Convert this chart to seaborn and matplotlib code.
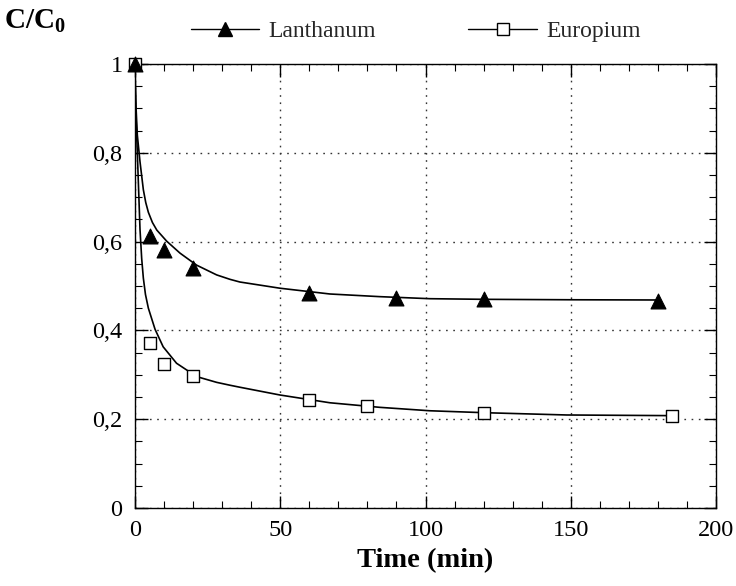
import matplotlib
matplotlib.use("Agg")
import matplotlib.pyplot as plt
import seaborn as sns
import pandas as pd
from matplotlib.lines import Line2D
from matplotlib.ticker import MultipleLocator

# ---- data ----
la_time = [0, 5, 10, 20, 60, 90, 120, 180]
la_ratio = [1.0, 0.613, 0.580, 0.540, 0.485, 0.472, 0.470, 0.467]

eu_time = [0, 5, 10, 20, 60, 80, 120, 185]
eu_ratio = [1.0, 0.371, 0.324, 0.298, 0.243, 0.230, 0.213, 0.208]

# fitted curves
la_fit_time = [0, 0.1, 0.3, 0.8, 1.72, 2.87, 3.7, 4.6, 6.0, 7.5, 10.9, 15.5, 21.2,
               28.1, 32.7, 36.1, 49.9, 67.1, 84.3, 101.5, 120.0, 150.0, 180.0]
la_fit_ratio = [1.0, 0.96, 0.91, 0.84, 0.78, 0.717, 0.688, 0.666, 0.643, 0.626,
                0.601, 0.574, 0.547, 0.525, 0.515, 0.509, 0.495, 0.482, 0.476,
                0.4714, 0.470, 0.469, 0.4685]

eu_fit_time = [0, 0.1, 0.35, 0.8, 1.72, 2.3, 2.87, 3.6, 4.6, 6.9, 9.7, 14.3, 21.2,
               28.1, 32.7, 36.1, 49.9, 67.1, 84.3, 101.5, 120.0, 148.6, 185.0]
eu_fit_ratio = [1.0, 0.95, 0.88, 0.80, 0.628, 0.562, 0.518, 0.481, 0.450, 0.4025,
                0.363, 0.326, 0.296, 0.283, 0.2765, 0.272, 0.2545, 0.237, 0.2267,
                0.219, 0.2147, 0.2095, 0.208]

x_ticks = [0, 50, 100, 150, 200]
x_tick_labels = ["0", "50", "100", "150", "200"]
y_ticks = [0, 0.2, 0.4, 0.6, 0.8, 1.0]
y_tick_labels = ["0", "0,2", "0,4", "0,6", "0,8", "1"]
series_names = ["Lanthanum", "Europium"]

# ---- style ----
sns.set_theme(style="white")
plt.rcParams["font.family"] = ["Liberation Serif", "DejaVu Serif"]
plt.rcParams["mathtext.fontset"] = "custom"
plt.rcParams["mathtext.rm"] = "Liberation Serif"
plt.rcParams["mathtext.bf"] = "Liberation Serif:bold"

fig = plt.figure(figsize=(7.36, 5.86), dpi=100)
ax = fig.add_axes([135 / 736, 1 - 508 / 586, (716 - 135) / 736, (508 - 64) / 586])

fit_la = pd.DataFrame({"t": la_fit_time, "r": la_fit_ratio})
fit_eu = pd.DataFrame({"t": eu_fit_time, "r": eu_fit_ratio})
pts_la = pd.DataFrame({"t": la_time, "r": la_ratio})
pts_eu = pd.DataFrame({"t": eu_time, "r": eu_ratio})

sns.lineplot(data=fit_la, x="t", y="r", ax=ax, color="black", lw=1.2,
             estimator=None, sort=False, zorder=3)
sns.lineplot(data=fit_eu, x="t", y="r", ax=ax, color="black", lw=1.2,
             estimator=None, sort=False, zorder=3)
sns.scatterplot(data=pts_eu, x="t", y="r", ax=ax, marker="s", s=85,
                facecolor="white", edgecolor="black", linewidth=1.0, zorder=4,
                clip_on=False)
sns.scatterplot(data=pts_la, x="t", y="r", ax=ax, marker="^", s=115,
                color="black", edgecolor="black", linewidth=0.8, zorder=5,
                clip_on=False)

ax.set_xlim(0, 200)
ax.set_ylim(0, 1)
ax.set_xticks(x_ticks)
ax.set_xticklabels(x_tick_labels)
ax.set_yticks(y_ticks)
ax.set_yticklabels(y_tick_labels)
ax.xaxis.set_minor_locator(MultipleLocator(10))
ax.yaxis.set_minor_locator(MultipleLocator(0.05))
ax.tick_params(which="both", direction="in", top=True, right=True,
               bottom=True, left=True, color="black", labelsize=17.5)
ax.tick_params(which="major", length=9, width=1, pad=9)
ax.tick_params(which="minor", length=5, width=0.8)
for lab in ax.get_xticklabels() + ax.get_yticklabels():
    lab.set_color("black")

ax.grid(True, which="major", linestyle=(0, (1.2, 4)), color="#333333", lw=1.0)
for s in ax.spines.values():
    s.set_visible(True)
    s.set_color("black")
    s.set_linewidth(1.0)

ax.set_xlabel("Time (min)", fontsize=20.5, fontweight="bold", color="black", labelpad=5)
ax.set_ylabel("")
fig.text(4 / 736, 1 - 21 / 586, r"$\mathbf{C/C_0}$", fontsize=21, color="black",
         ha="left", va="center")

handles = [
    Line2D([0], [0], color="black", lw=1.0, marker="^", markersize=9.5,
           markerfacecolor="black", markeredgecolor="black"),
    Line2D([0], [0], color="black", lw=1.0, marker="s", markersize=8.5,
           markerfacecolor="white", markeredgecolor="black"),
]
fig.legend(handles, series_names, loc="center", bbox_to_anchor=(0.565, 1 - 31 / 586),
           ncol=2, frameon=False, fontsize=17, handlelength=2.9, handletextpad=0.4,
           columnspacing=3.9)

fig.savefig("out.png", dpi=100)
